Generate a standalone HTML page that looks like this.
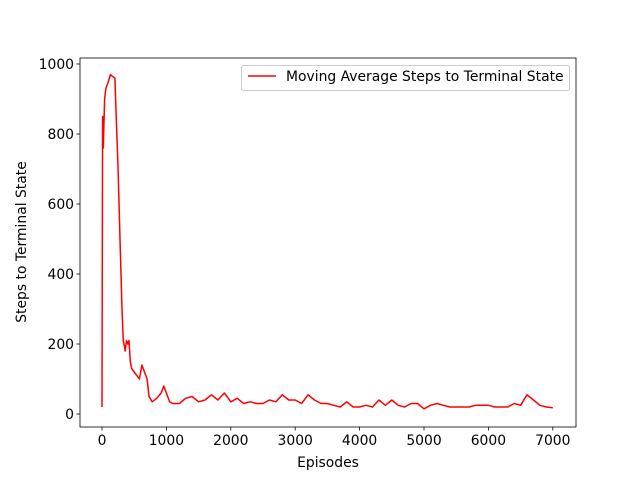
<!DOCTYPE html>
<html><head><meta charset="utf-8"><style>
body{margin:0;background:#fff;}
svg{display:block;font-family:"DejaVu Sans","Liberation Sans",sans-serif;}
</style></head><body>
<svg id="chart" width="640" height="480">
<rect width="640" height="480" fill="#fff"/>
</svg>
<script>
const episodes=[0,10,20,40,60,100,130,160,200,220,250,280,310,330,360,380,400,420,440,460,500,540,580,620,660,700,730,780,850,920,960,1000,1050,1100,1200,1300,1400,1500,1600,1700,1800,1900,2000,2100,2200,2300,2400,2500,2600,2700,2800,2900,3000,3100,3200,3300,3400,3500,3600,3700,3800,3900,4000,4100,4200,4300,4400,4500,4600,4700,4800,4900,5000,5100,5200,5300,5400,5500,5600,5700,5800,5900,6000,6100,6200,6300,6400,6500,6600,6700,6800,6900,7000];
const steps=[20,850,760,900,930,950,970,965,960,850,700,500,300,210,180,210,200,210,150,130,120,110,100,140,120,100,50,35,45,60,80,60,35,30,30,45,50,35,40,55,40,60,35,45,30,35,30,30,40,35,55,40,40,30,55,40,30,30,25,20,35,20,20,25,20,40,25,40,25,20,30,30,15,25,30,25,20,20,20,20,25,25,25,20,20,20,30,25,55,40,25,20,18];
const xTicks=[0,1000,2000,3000,4000,5000,6000,7000];
const yTicks=[0,200,400,600,800,1000];
const L=80,R=576,T=58,B=427;
const x=v=>102+v*0.0644;
const y=v=>414-v*0.35;
const svg=document.getElementById('chart');
const NS='http://www.w3.org/2000/svg';
function mk(t,a,txt){const e=document.createElementNS(NS,t);for(const k in a)e.setAttribute(k,a[k]);if(txt!==undefined)e.textContent=txt;svg.appendChild(e);return e;}
const pts=episodes.map((e,i)=>x(e).toFixed(1)+','+y(steps[i]).toFixed(1)).join(' ');
const line=mk('polyline',{points:pts,fill:'none',stroke:'#ff0000','stroke-width':1.5,'stroke-linejoin':'round'});


const frame=mk('rect',{x:L,y:T,width:R-L,height:B-T,fill:'none',stroke:'#000','stroke-width':0.8});


xTicks.forEach(v=>{
  mk('line',{x1:x(v),x2:x(v),y1:B,y2:B+3.5,stroke:'#000','stroke-width':0.8});
  const t=mk('text',{x:x(v),y:B+18,'font-size':13.9,'text-anchor':'middle'},v);
  
  
});
yTicks.forEach(v=>{
  mk('line',{x1:L-3.5,x2:L,y1:y(v),y2:y(v),stroke:'#000','stroke-width':0.8});
  const t=mk('text',{x:L-6,y:y(v)+5,'font-size':13.9,'text-anchor':'end'},v);
  
  
});
const xt=mk('text',{x:328,y:467,'font-size':13.9,'text-anchor':'middle'},'Episodes');


const yt=mk('text',{x:26,y:242,'font-size':13.9,'text-anchor':'middle',transform:'rotate(-90 26 242)'},'Steps to Terminal State');


const lg=mk('rect',{x:241.5,y:65.5,width:328,height:25,rx:2,fill:'#fff','fill-opacity':0.8,stroke:'#ccc','stroke-width':1});


mk('line',{x1:248,x2:276,y1:76,y2:76,stroke:'#ff0000','stroke-width':1.5});
const lt=mk('text',{x:286,y:81,'font-size':13.9},'Moving Average Steps to Terminal State');


</script>
</body></html>
